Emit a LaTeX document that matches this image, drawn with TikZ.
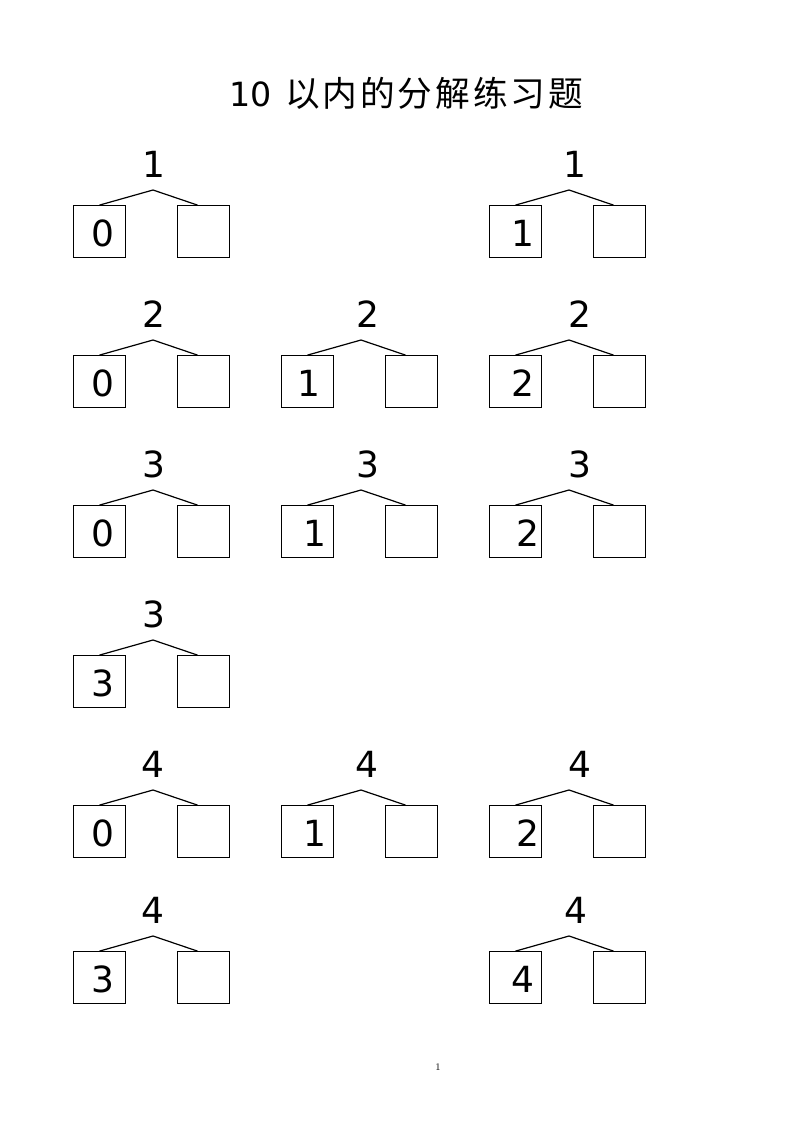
\documentclass[tikz,border=0pt]{standalone}
\usepackage{fontspec}
\usetikzlibrary{calc}
\newfontfamily\dvfont{DejaVu Sans}
\newfontfamily\cjkfont{Noto Sans CJK SC}
\newcommand\tsp{\hspace{2.2pt}}
\begin{document}
\begin{tikzpicture}[x=0.75pt,y=-0.75pt,
  numbox/.style={draw,line width=1pt,minimum size=38.6pt,inner sep=0pt},
  topnum/.style={font=\dvfont\fontsize{27}{30}\selectfont,inner sep=0pt,anchor=base},
  boxnum/.style={font=\dvfont\fontsize{27}{30}\selectfont,inner sep=0pt,anchor=base},
  branch/.style={line width=0.9pt,line join=miter}]
\useasboundingbox (0,0) rectangle (793,1122);
\node[inner sep=0pt,anchor=base west] (title) at (229,106)
  {{\dvfont\fontsize{25}{28}\selectfont 10}\hspace{10pt}{\cjkfont\fontsize{26}{30}\selectfont 以\tsp{}内\tsp{}的\tsp{}分\tsp{}解\tsp{}练\tsp{}习\tsp{}题}};
\foreach \i/\gc/\gt/\gn/\gd/\gnx/\gdx in {
  1/0/207/1/0/154/103,
  2/2/207/1/1/575/523,
  3/0/357/2/0/154/103,
  4/1/357/2/1/368/309,
  5/2/357/2/2/580/523,
  6/0/507/3/0/154/103,
  7/1/507/3/1/368/315,
  8/2/507/3/2/580/528,
  9/0/657/3/3/154/103,
  10/0/807/4/0/153/103,
  11/1/807/4/1/367/315,
  12/2/807/4/2/580/528,
  13/0/953/4/3/153/103,
  14/2/953/4/4/576/523}{
  \node[numbox] (L\i) at (73+208*\gc+26.5,\gt+24.5) {};
  \node[numbox] (R\i) at (73+208*\gc+130.5,\gt+24.5) {};
  \node[boxnum] (D\i) at (\gdx,\gt+39) {\gd};
  \node[topnum] (N\i) at (\gnx,\gt-30) {\gn};
  \coordinate (A\i) at (73+208*\gc+80,\gt-17);
  \draw[branch] (L\i.north) -- (A\i) -- ($(R\i.north)+(-6,0)$);
}
\node[inner sep=0pt,anchor=base,font=\fontsize{7.5}{9}\selectfont] (page) at (438,1070) {1};
\end{tikzpicture}
\end{document}
